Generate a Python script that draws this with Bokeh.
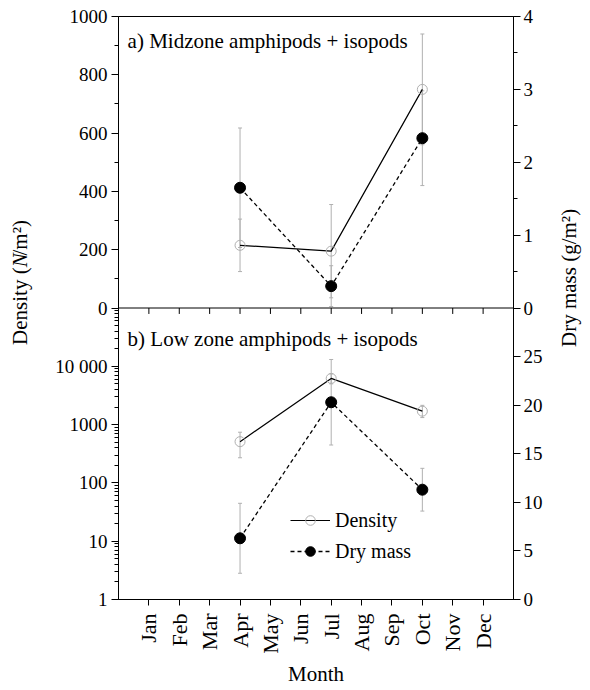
import math
from bokeh.plotting import figure
from bokeh.layouts import row
from bokeh.models import (Range1d, LinearAxis, LogScale, FixedTicker, CustomJSTickFormatter,
                          ColumnDataSource, Whisker, TeeHead, Span, Label, Legend, LegendItem)
from bokeh.embed import file_html
from bokeh.resources import INLINE

# ---------------- data ----------------
MONTHS = ["Jan", "Feb", "Mar", "Apr", "May", "Jun", "Jul", "Aug", "Sep", "Oct", "Nov", "Dec"]
month_num = list(range(1, 13))
sample_month = [4, 7, 10]          # Apr, Jul, Oct

# a) Midzone amphipods + isopods
mid_density = [215, 195, 750]
mid_density_err = [90, 160, 190]
mid_drymass = [1.65, 0.30, 2.33]
mid_drymass_err = [0.82, 0.28, 0.65]

# b) Low zone amphipods + isopods
low_density = [510, 6200, 1700]
low_density_lower = [270, 5000, 1320]
low_density_upper = [740, 7400, 2140]
low_drymass = [6.3, 20.3, 11.3]
low_drymass_err = [3.6, 4.4, 2.2]

# ticks
mid_density_ticks = [0, 200, 400, 600, 800, 1000]
mid_density_minor = [100, 300, 500, 700, 900]
low_density_ticks = [1, 10, 100, 1000, 10000]
low_density_labels = ["1", "10", "100", "1000", "10 000"]
mid_mass_ticks = [0, 1, 2, 3, 4]
mid_mass_minor = [0.5, 1.5, 2.5, 3.5]
low_mass_ticks = [0, 5, 10, 15, 20, 25]

FONT = "Liberation Serif"
GREY = "#b0b0b0"

# ---------------- ranges ----------------
TOP_D = (-1000, 1000)     # primary: upper half shows 0..1000
LOW_D = (1, 1e10)         # log: lower half shows 1..1e5
TOP_M = (-4, 4)           # upper half shows 0..4
LOW_M = (0, 60)           # lower half shows 0..30


def low_d_on_primary(v):
    return TOP_D[0] + (TOP_D[1] - TOP_D[0]) * (math.log10(v) - math.log10(LOW_D[0])) / (
        math.log10(LOW_D[1]) - math.log10(LOW_D[0]))


def low_m_on_topm(v):
    return TOP_M[0] + (TOP_M[1] - TOP_M[0]) * (v - LOW_M[0]) / (LOW_M[1] - LOW_M[0])


H = 688
FRAME_H = 588
PX = (TOP_D[1] - TOP_D[0]) / FRAME_H   # primary units per pixel

p = figure(width=510, height=H,
           x_range=Range1d(0, 13), y_range=Range1d(*TOP_D),
           output_backend="svg", toolbar_location=None,
           min_border_left=78, min_border_right=37, min_border_top=16, min_border_bottom=84,
           background_fill_color="white", border_fill_color="white",
           outline_line_color="black", outline_line_width=1)
p.grid.visible = False
p.extra_y_ranges = {"dlog": Range1d(*LOW_D), "mtop": Range1d(*TOP_M), "mbot": Range1d(*LOW_M)}
p.extra_y_scales = {"dlog": LogScale()}

# ---------------- axes ----------------
xa = p.xaxis[0]
xa.ticker = FixedTicker(ticks=month_num, minor_ticks=[])
xa.formatter = CustomJSTickFormatter(args=dict(names=MONTHS),
                                     code="const i = Math.round(tick) - 1; return (i >= 0 && i < names.length) ? names[i] : '';")
xa.major_label_orientation = math.pi / 2
xa.major_tick_out = 6
xa.major_tick_in = 0
xa.major_label_standoff = 8
xa.major_label_text_font = FONT
xa.major_label_text_font_size = "22px"
xa.major_label_text_color = "black"
xa.axis_line_color = "black"
xa.axis_label = "Month"
xa.axis_label_text_font = FONT
xa.axis_label_text_font_size = "21px"
xa.axis_label_text_font_style = "normal"
xa.axis_label_text_color = "black"
xa.axis_label_standoff = 5

left_pos = [low_d_on_primary(v) for v in low_density_ticks] + mid_density_ticks
left_lab = low_density_labels + [str(v) for v in mid_density_ticks]
left_minor = [low_d_on_primary(k * 10 ** d) for d in range(5) for k in range(2, 10)] + mid_density_minor
ya = p.yaxis[0]
ya.ticker = FixedTicker(ticks=left_pos, minor_ticks=left_minor)
ya.formatter = CustomJSTickFormatter(args=dict(pos=left_pos, labels=left_lab),
                                     code="for (let i = 0; i < pos.length; i++) { if (Math.abs(pos[i] - tick) < 1e-6) return labels[i]; } return '';")
ya.major_tick_out = 7
ya.major_tick_in = 0
ya.minor_tick_out = 4
ya.minor_tick_in = 0
ya.major_label_standoff = 4
ya.major_label_text_font = FONT
ya.major_label_text_font_size = "19px"
ya.major_label_text_color = "black"

right_pos = [low_m_on_topm(v) for v in low_mass_ticks] + mid_mass_ticks
right_lab = [str(v) for v in low_mass_ticks] + [str(v) for v in mid_mass_ticks]
ra = LinearAxis(y_range_name="mtop",
                ticker=FixedTicker(ticks=right_pos, minor_ticks=mid_mass_minor),
                formatter=CustomJSTickFormatter(args=dict(pos=right_pos, labels=right_lab),
                                                code="for (let i = 0; i < pos.length; i++) { if (Math.abs(pos[i] - tick) < 1e-6) return labels[i]; } return '';"))
ra.major_tick_out = 7
ra.major_tick_in = 0
ra.minor_tick_out = 4
ra.minor_tick_in = 0
ra.major_label_standoff = 3
ra.major_label_text_font = FONT
ra.major_label_text_font_size = "19px"
ra.major_label_text_color = "black"
p.add_layout(ra, "right")

# panel separator and its month ticks
p.add_layout(Span(location=0, dimension="width", line_color="black", line_width=1))
p.segment(x0=month_num, y0=[0] * len(month_num), x1=month_num, y1=[-6 * PX] * len(month_num),
          line_color="black", line_width=1)

# ---------------- error bars ----------------
def add_whisker(x, lo, hi, rng):
    src = ColumnDataSource(dict(x=x, lo=lo, hi=hi))
    w = Whisker(source=src, base="x", lower="lo", upper="hi", dimension="height",
                line_color=GREY, line_width=1, level="underlay",
                upper_head=TeeHead(size=4, line_color=GREY, line_width=1),
                lower_head=TeeHead(size=4, line_color=GREY, line_width=1))
    if rng is not None:
        w.y_range_name = rng
    p.add_layout(w)


add_whisker(sample_month, [d - e for d, e in zip(mid_density, mid_density_err)],
            [d + e for d, e in zip(mid_density, mid_density_err)], None)
add_whisker(sample_month, [d - e for d, e in zip(mid_drymass, mid_drymass_err)],
            [d + e for d, e in zip(mid_drymass, mid_drymass_err)], "mtop")
add_whisker(sample_month, low_density_lower, low_density_upper, "dlog")
add_whisker(sample_month, [d - e for d, e in zip(low_drymass, low_drymass_err)],
            [d + e for d, e in zip(low_drymass, low_drymass_err)], "mbot")

# ---------------- series ----------------
l1 = p.line(sample_month, mid_density, line_color="black", line_width=1.2)
m1 = p.scatter(sample_month, mid_density, marker="circle", size=10,
               fill_color=None, line_color=GREY, line_width=1)
l2 = p.line(sample_month, mid_drymass, y_range_name="mtop", line_color="black",
            line_width=1.3, line_dash="4 3")
m2 = p.scatter(sample_month, mid_drymass, y_range_name="mtop", marker="circle", size=11,
               fill_color="black", line_color="black")

p.line(sample_month, low_density, y_range_name="dlog", line_color="black", line_width=1.2)
p.scatter(sample_month, low_density, y_range_name="dlog", marker="circle", size=10,
          fill_color=None, line_color=GREY, line_width=1)
p.line(sample_month, low_drymass, y_range_name="mbot", line_color="black",
       line_width=1.3, line_dash="4 3")
p.scatter(sample_month, low_drymass, y_range_name="mbot", marker="circle", size=11,
          fill_color="black", line_color="black")

# ---------------- panel texts ----------------
p.add_layout(Label(x=0.3, y=TOP_D[1] - 25 * PX, text="a) Midzone amphipods + isopods",
                   text_font=FONT, text_font_size="21px", text_baseline="alphabetic",
                   text_color="black"))
p.add_layout(Label(x=0.3, y=0 - 31 * PX, text="b) Low zone amphipods + isopods",
                   text_font=FONT, text_font_size="21px", text_baseline="alphabetic",
                   text_color="black"))

# ---------------- legend ----------------
legend = Legend(items=[LegendItem(label="Density", renderers=[l1, m1]),
                       LegendItem(label="Dry mass", renderers=[l2, m2])],
                location=(172, 36), label_text_font=FONT, label_text_font_size="20px",
                label_text_color="black",
                glyph_width=40, glyph_height=24, label_height=24, spacing=7,
                padding=0, margin=0, label_standoff=5,
                border_line_color=None, background_fill_alpha=0)
p.add_layout(legend)


# ---------------- side strips for the y-axis titles ----------------
def strip(width):
    f = figure(width=width, height=H, x_range=Range1d(0, width), y_range=Range1d(0, H),
               output_backend="svg", toolbar_location=None, min_border=0,
               x_axis_location=None, y_axis_location=None, outline_line_color=None,
               background_fill_color="white", border_fill_color="white")
    f.grid.visible = False
    return f


left = strip(40)
# "Density (N/m²)" with italic N, reading upwards, centred at y = 310 from the top
for txt, top_y, align, style in [("Density (", 296, "right", "normal"),
                                 ("N", 296, "left", "italic"),
                                 ("/m\u00b2)", 282, "left", "normal")]:
    left.add_layout(Label(x=19.5, y=H - top_y, text=txt, angle=math.pi / 2, text_align=align,
                          text_baseline="middle", text_font=FONT, text_font_size="21px",
                          text_font_style=style, text_color="black"))

right = strip(38)
right.add_layout(Label(x=18, y=H - 308.5, text="Dry mass (g/m\u00b2)", angle=math.pi / 2,
                       text_align="center", text_baseline="middle", text_font=FONT,
                       text_font_size="21px", text_color="black"))

layout = row(left, p, right)
open("out.html", "w").write(file_html(layout, INLINE))
